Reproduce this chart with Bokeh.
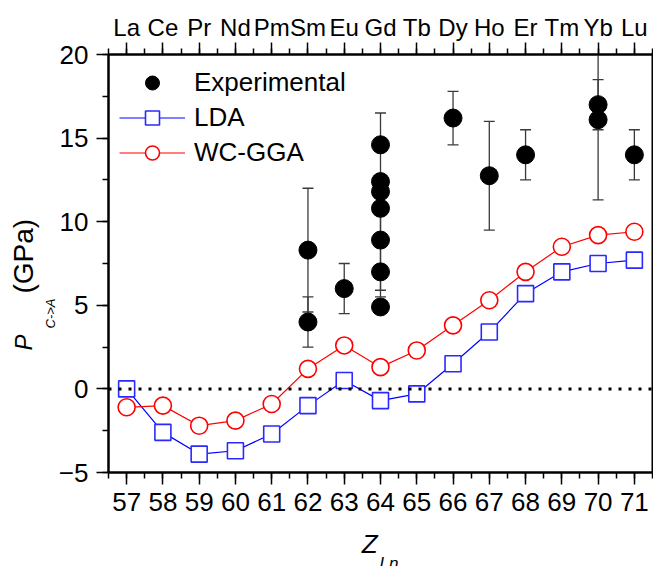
from bokeh.plotting import figure
from bokeh.models import (ColumnDataSource, Whisker, TeeHead, LinearAxis, SingleIntervalTicker,
                          Span, Title, Legend, LegendItem)
from bokeh.embed import file_html
from bokeh.resources import INLINE

# ---- data ----
z = [57, 58, 59, 60, 61, 62, 63, 64, 65, 66, 67, 68, 69, 70, 71]
elements = ["La", "Ce", "Pr", "Nd", "Pm", "Sm", "Eu", "Gd", "Tb", "Dy", "Ho", "Er", "Tm", "Yb", "Lu"]
lda = [0.0, -2.6, -3.9, -3.7, -2.7, -1.0, 0.5, -0.7, -0.3, 1.5, 3.4, 5.7, 7.0, 7.5, 7.7]
wcgga = [-1.1, -1.0, -2.2, -1.9, -0.9, 1.2, 2.6, 1.3, 2.3, 3.8, 5.3, 7.0, 8.5, 9.2, 9.4]

exp_z = [62, 62, 63, 64, 64, 64, 64, 64, 64, 64, 66, 67, 68, 70, 70, 71]
exp_p = [4.0, 8.3, 6.0, 4.9, 7.0, 8.9, 10.8, 11.8, 12.4, 14.6, 16.2, 12.75, 14.0, 17.0, 16.1, 14.0]

err_z = [62, 62, 63, 64, 64, 64, 66, 67, 68, 70, 70, 71]
err_lo = [2.5, 4.6, 4.5, 12.4, 5.9, 5.5, 14.6, 9.5, 12.5, 15.5, 11.3, 12.5]
err_hi = [5.5, 12.0, 7.5, 16.5, 12.4, 10.8, 17.8, 16.0, 15.5, 18.5, 20.9, 15.5]

FONT = "Liberation Sans"
NB = "\u00a0"

p = figure(width=653, height=566, x_range=(56.5, 71.5), y_range=(-5, 20),
           output_backend="svg", toolbar_location=None,
           min_border_left=108, min_border_right=1, min_border_top=54, min_border_bottom=89)
p.grid.visible = False
p.outline_line_color = "black"
p.outline_line_width = 2
p.background_fill_color = "white"
p.border_fill_color = "white"

def style_axis(ax, size):
    ax.axis_line_width = 2
    ax.axis_line_color = "black"
    ax.major_tick_line_width = 1.5
    ax.minor_tick_line_width = 1.5
    ax.major_tick_in = 0
    ax.minor_tick_in = 0
    ax.major_tick_out = 12
    ax.minor_tick_out = 6
    ax.major_label_text_font = FONT
    ax.major_label_text_font_size = size
    ax.major_label_text_color = "black"

xaxis = p.xaxis[0]
xaxis.ticker = SingleIntervalTicker(interval=1, num_minor_ticks=2)
style_axis(xaxis, "26px")
xaxis.major_label_standoff = 8
xaxis.axis_label = "Z" + NB * 3
xaxis.axis_label_text_font = FONT
xaxis.axis_label_text_font_size = "26px"
xaxis.axis_label_text_font_style = "italic"
xaxis.axis_label_text_color = "black"
xaxis.axis_label_standoff = 15

yaxis = p.yaxis[0]
yaxis.ticker = SingleIntervalTicker(interval=5, num_minor_ticks=2)
style_axis(yaxis, "26px")
yaxis.major_label_standoff = 8

top = LinearAxis(ticker=SingleIntervalTicker(interval=1, num_minor_ticks=2),
                 major_label_overrides={zz: el for zz, el in zip(z, elements)})
style_axis(top, "24px")
top.major_label_standoff = 2
p.add_layout(top, "above")

# y-axis title pieces: P, subscript C->A, (GPa)
p.add_layout(Title(text="C->A", align="left", vertical_align="middle", offset=144, standoff=-5.9,
                   text_font=FONT, text_font_size="13px", text_font_style="italic",
                   text_color="black"), "left")
p.add_layout(Title(text="(GPa)", align="left", vertical_align="bottom", offset=179, standoff=10.8,
                   text_font=FONT, text_font_size="28px", text_font_style="normal",
                   text_color="black"), "left")
p.add_layout(Title(text="P", align="left", vertical_align="bottom", offset=122, standoff=-72.6,
                   text_font=FONT, text_font_size="24px", text_font_style="italic",
                   text_color="black"), "left")
# x-axis subscript
p.add_layout(Title(text="Ln", align="left", vertical_align="top", offset=271, standoff=-16,
                   text_font=FONT, text_font_size="17px", text_font_style="italic",
                   text_color="black"), "below")

# zero line
p.add_layout(Span(location=0, dimension="width", line_color="black", line_width=3, line_dash="3 7"))

# error bars
err_src = ColumnDataSource(dict(z=err_z, lo=err_lo, hi=err_hi))
ecol = "#3a3a3a"
p.add_layout(Whisker(source=err_src, base="z", lower="lo", upper="hi", line_color=ecol, line_width=1.3,
                     upper_head=TeeHead(size=11, line_color=ecol, line_width=1.3),
                     lower_head=TeeHead(size=11, line_color=ecol, line_width=1.3)))

# series
lda_line = p.line(z, lda, line_color="blue", line_width=1.2)
lda_pts = p.scatter(z, lda, marker="square", size=16, line_color="#2a2aff", line_width=1.6, fill_color="white")
gga_line = p.line(z, wcgga, line_color="red", line_width=1.2)
gga_pts = p.scatter(z, wcgga, marker="circle", size=17, line_color="red", line_width=1.6, fill_color="white")
exp_pts = p.scatter(exp_z, exp_p, marker="circle", size=18, line_color="black", fill_color="black")

legend = Legend(items=[LegendItem(label="Experimental", renderers=[exp_pts]),
                       LegendItem(label="LDA", renderers=[lda_line, lda_pts]),
                       LegendItem(label="WC-GGA", renderers=[gga_line, gga_pts])],
                location="top_left", margin=11, padding=0, spacing=0,
                glyph_width=66, glyph_height=35, label_height=35, label_standoff=9,
                label_text_font=FONT, label_text_font_size="26px", label_text_color="black",
                border_line_alpha=0, background_fill_alpha=0)
p.add_layout(legend)

open("out.html", "w").write(file_html(p, INLINE))
